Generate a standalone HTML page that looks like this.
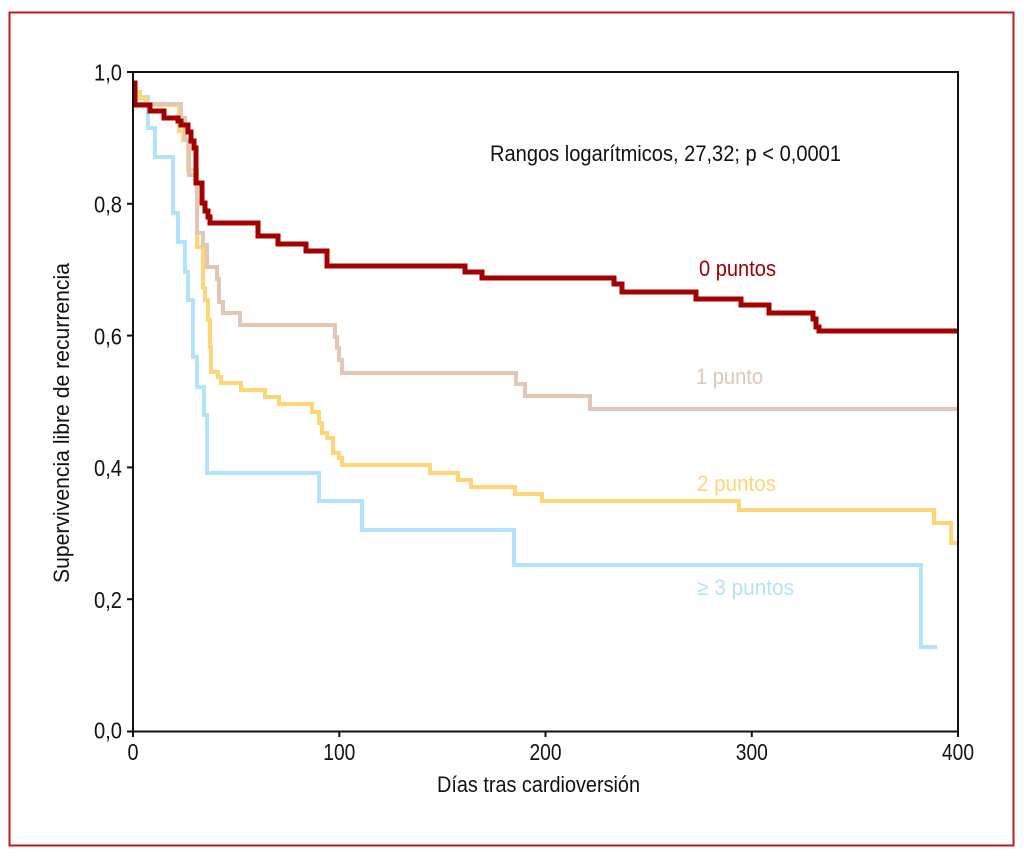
<!DOCTYPE html>
<html>
<head>
<meta charset="utf-8">
<style>
  html,body{margin:0;padding:0;background:#fff;}
  svg{display:block;}
  text{font-family:"Liberation Sans Narrow","Liberation Sans",sans-serif;}
</style>
</head>
<body>
<svg width="1024" height="858" viewBox="0 0 1024 858" xmlns="http://www.w3.org/2000/svg">
  <rect x="0" y="0" width="1024" height="858" fill="#fff"/>
  <!-- red border -->
  <rect x="9.5" y="12.5" width="1004" height="833" fill="none" stroke="#c4161c" stroke-width="2"/>

  <!-- curves -->
  <g fill="none" stroke-linejoin="miter" stroke-linecap="butt">
    <!-- >=3 puntos (blue) -->
    <path stroke="#b3e3fb" stroke-width="4" d="M133,97 H148 V128 H155 V157 H173 V213 H178 V242 H185 V272 H188 V300 H193 V357 H197 V387 H204 V415 H207 V473 H319 V501 H362 V530 H514 V565 H921 V647 H937"/>
    <!-- 2 puntos (yellow) -->
    <path stroke="#ffd677" stroke-width="4" d="M133,92 H140 V98 H146 V105 H179 V131 H183 V140 H188 V170 H197 V247 H203 V288 H205 V300 H208 V320 H210 V347 H211 V372 H218 V377 H221 V383 H241 V390 H265 V397 H279 V404 H312 V412 H319 V423 H322 V433 H327 V438 H333 V453 H339 V458 H342 V465 H430 V473 H458 V480 H471 V487 H515 V494 H542 V501 H739 V510 H934 V523 H951 V543 H958"/>
    <!-- 1 punto (beige) -->
    <path stroke="#e2c6b6" stroke-width="4" d="M133,104 H181 V118 H185 V140 H189 V175 H197 V233 H203 V245 H207 V267 H217 V279 H219 V302 H223 V313 H240 V325 H335 V337 H337 V348 H339 V360 H342 V373 H516 V384 H525 V396 H590 V409 H958"/>
    <!-- 0 puntos (dark red) -->
    <path stroke="#a30000" stroke-width="5" d="M133,83 H135 V105 H150 V111 H164 V118 H178 V121 H181 V125 H188 V132 H191 V141 H194 V148 H196 V183 H202 V203 H205 V211 H208 V217 H210 V223 H258 V236 H278 V244 H306 V251 H327 V266 H465 V272 H482 V278 H614 V284 H622 V292 H696 V299 H741 V305 H769 V313 H813 V319 H816 V327 H819 V331 H958"/>
  </g>

  <!-- axes frame -->
  <g stroke="#111" stroke-width="2" fill="none">
    <rect x="133" y="72" width="825" height="659.5"/>
    <!-- y ticks -->
    <line x1="127" y1="72" x2="133" y2="72"/>
    <line x1="127" y1="203.8" x2="133" y2="203.8"/>
    <line x1="127" y1="335.6" x2="133" y2="335.6"/>
    <line x1="127" y1="467.4" x2="133" y2="467.4"/>
    <line x1="127" y1="599.2" x2="133" y2="599.2"/>
    <line x1="127" y1="731.5" x2="133" y2="731.5"/>
    <!-- x ticks -->
    <line x1="133" y1="731" x2="133" y2="737"/>
    <line x1="339.3" y1="731" x2="339.3" y2="737"/>
    <line x1="545.5" y1="731" x2="545.5" y2="737"/>
    <line x1="751.8" y1="731" x2="751.8" y2="737"/>
    <line x1="958" y1="731" x2="958" y2="737"/>
  </g>

  <!-- y tick labels -->
  <g fill="#111" font-size="23" text-anchor="end">
    <text x="122" y="80.5" textLength="28" lengthAdjust="spacingAndGlyphs">1,0</text>
    <text x="122" y="212.5" textLength="28" lengthAdjust="spacingAndGlyphs">0,8</text>
    <text x="122" y="344.5" textLength="28" lengthAdjust="spacingAndGlyphs">0,6</text>
    <text x="122" y="476" textLength="28" lengthAdjust="spacingAndGlyphs">0,4</text>
    <text x="122" y="608" textLength="28" lengthAdjust="spacingAndGlyphs">0,2</text>
    <text x="122" y="738.5" textLength="28" lengthAdjust="spacingAndGlyphs">0,0</text>
  </g>

  <!-- x tick labels -->
  <g fill="#111" font-size="23" text-anchor="middle">
    <text x="133" y="760" textLength="11" lengthAdjust="spacingAndGlyphs">0</text>
    <text x="339.3" y="760" textLength="32" lengthAdjust="spacingAndGlyphs">100</text>
    <text x="545.5" y="760" textLength="32" lengthAdjust="spacingAndGlyphs">200</text>
    <text x="751.8" y="760" textLength="32" lengthAdjust="spacingAndGlyphs">300</text>
    <text x="958" y="760" textLength="32" lengthAdjust="spacingAndGlyphs">400</text>
  </g>

  <!-- axis titles -->
  <text x="437" y="792" fill="#111" font-size="22" textLength="203" lengthAdjust="spacingAndGlyphs">Días tras cardioversión</text>
  <text transform="translate(69,583) rotate(-90)" x="0" y="0" fill="#111" font-size="22" textLength="320" lengthAdjust="spacingAndGlyphs">Supervivencia libre de recurrencia</text>

  <!-- annotation -->
  <text x="490" y="161" fill="#111" font-size="22" textLength="351" lengthAdjust="spacingAndGlyphs">Rangos logarítmicos, 27,32; p &lt; 0,0001</text>

  <!-- series labels -->
  <text x="699" y="276" fill="#a30000" font-size="22" textLength="77" lengthAdjust="spacingAndGlyphs">0 puntos</text>
  <text x="696" y="384" fill="#e2c6b6" font-size="22" textLength="67" lengthAdjust="spacingAndGlyphs">1 punto</text>
  <text x="697" y="491" fill="#ffd677" font-size="22" textLength="79" lengthAdjust="spacingAndGlyphs">2 puntos</text>
  <text x="697" y="595" fill="#b3e3fb" font-size="22" textLength="97" lengthAdjust="spacingAndGlyphs">≥ 3 puntos</text>
</svg>
</body>
</html>
